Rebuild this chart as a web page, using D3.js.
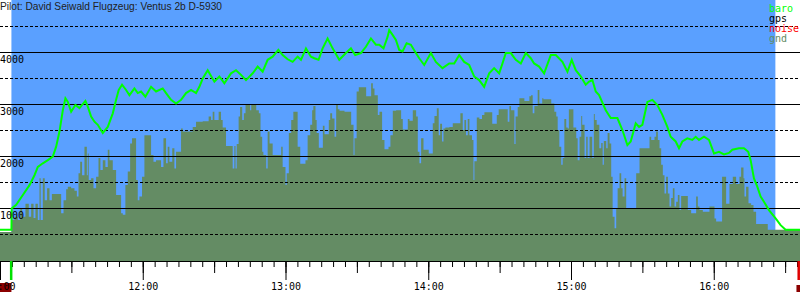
<!DOCTYPE html>
<html>
<head>
<meta charset="utf-8">
<script src="https://cdn.jsdelivr.net/npm/d3@7"></script>
<style>
  body { margin: 0; background: #fff; }
  svg { display: block; }
  .mono { font-family: "DejaVu Sans Mono", monospace; font-size: 10px; }
</style>
</head>
<body>
<svg id="chart" width="800" height="300"></svg>
<script>
const WIDTH = 800;
const HEIGHT = 300;
const AXIS_Y = 261;

// flight info
const title = "Pilot: David Seiwald Flugzeug: Ventus 2b D-5930";
const startTime = "11:00";
// minutes after 11:00
const takeoff = 4.8;
const landing = 325.9;
const logEnd = 335.6;

const yTicks = [1000, 2000, 3000, 4000];
const yHalfTicks = [500, 1500, 2500, 3500, 4500];
const legendNames = ["baro", "gps", "noise", "gnd"];
const legendColors = ["#00ff00", "#000000", "#ff0000", "#648c64"];

// baro altitude: [minutes after 11:00, metres]
const baro = [
  [-0.3,580],[4.8,580],[4.9,990],[6.8,1060],[9.6,1250],[12.4,1440],[14.5,1630],[15.9,1790],
  [18.0,1860],[20.1,1920],[22.2,1990],[23.6,2180],[25.0,2470],[26.4,2880],[27.5,3110],[28.5,3040],
  [29.9,2850],[31.7,2980],[33.4,2920],[35.9,3060],[36.9,2950],[38.3,2760],[39.7,2660],[41.1,2600],
  [43.2,2440],[45.3,2560],[47.4,2820],[48.8,3080],[49.9,3270],[51.3,3370],[53.0,3270],[54.4,3170],
  [56.5,3300],[57.9,3210],[59.3,3240],[61.1,3140],[63.5,3330],[65.6,3240],[68.4,3300],[69.8,3210],
  [71.9,3080],[74.0,3010],[76.1,3080],[78.2,3210],[80.3,3270],[82.4,3210],[83.8,3330],[85.2,3490],
  [87.3,3650],[90.1,3430],[92.2,3530],[94.3,3400],[97.1,3590],[99.2,3650],[101.3,3560],[103.4,3460],
  [106.2,3590],[108.3,3720],[110.4,3620],[112.5,3850],[114.6,3910],[117.0,4040],[118.8,3940],[120.9,3860],
  [123.0,3810],[125.1,3910],[126.5,3850],[128.6,4070],[130.7,3910],[132.1,3880],[133.9,3850],[135.6,4070],
  [137.7,4260],[139.8,4070],[142.6,3850],[145.4,3980],[147.5,4070],[149.3,3940],[151.7,3980],[153.8,4100],
  [155.9,4260],[158.0,4140],[159.4,4140],[161.2,4070],[162.9,4290],[163.6,4420],[165.0,4330],[166.4,4230],
  [167.8,4040],[169.2,4010],[170.9,4170],[172.7,4140],[174.8,3980],[176.2,3880],[178.3,3750],[181.1,3980],
  [183.2,3810],[186.0,3690],[188.8,3780],[190.9,3780],[193.0,3940],[195.1,3810],[197.2,3750],[199.3,3530],
  [201.4,3460],[203.5,3330],[205.6,3590],[207.7,3690],[209.8,3590],[211.2,3780],[212.6,3980],[214.7,3980],
  [216.8,3850],[218.9,3780],[221.0,3980],[223.1,3880],[224.5,3780],[226.6,3720],[228.7,3590],[231.5,3940],
  [233.6,3940],[236.4,3810],[238.5,3620],[240.3,3850],[242.0,3650],[244.1,3530],[246.2,3370],[247.6,3430],
  [249.0,3460],[250.4,3240],[251.8,3170],[254.6,2880],[256.7,2730],[259.5,2730],[261.6,2500],[263.7,2210],
  [265.1,2280],[267.2,2630],[268.6,2560],[270.0,2600],[272.1,3040],[274.2,3080],[276.3,2980],[278.4,2790],
  [280.5,2560],[281.9,2370],[284.0,2280],[285.4,2150],[286.8,2280],[288.9,2340],[291.0,2310],[292.4,2370],
  [293.8,2310],[295.9,2370],[298.0,2310],[300.1,2050],[302.2,2080],[304.3,2030],[306.4,2060],[307.8,2120],
  [310.6,2150],[312.7,2150],[314.5,2080],[315.5,1920],[316.9,1570],[318.3,1410],[319.7,1220],[321.1,1120],
  [323.2,960],[326.0,800],[328.1,670],[330.2,580],[336.3,580]
];

// ground elevation under the glider, stepwise: [minutes after 11:00, metres]
const gnd = [
  [-0.3,540],[4.8,770],[6.1,830],[7.5,770],[8.5,990],[9.3,830],[10.7,1080],[12.1,830],
  [13.1,1080],[14.1,810],[14.9,1080],[15.9,770],[16.6,1570],[17.1,770],[18.0,1570],[18.8,1150],
  [19.8,1380],[20.8,1150],[21.8,1270],[25.7,900],[26.7,1150],[27.8,1360],[28.5,1410],[29.9,1380],
  [31.3,1330],[32.3,1220],[33.0,1670],[33.7,1890],[34.5,1630],[35.5,2180],[36.5,1630],[36.9,2050],
  [37.3,1540],[38.3,1570],[39.3,1380],[40.4,1600],[41.4,1960],[42.2,1730],[43.2,1920],[44.3,1790],
  [45.3,2120],[46.0,1920],[47.4,1730],[48.8,1250],[50.9,900],[51.6,870],[52.7,1440],[53.7,1700],
  [54.7,2240],[55.5,2340],[57.2,1540],[57.9,1150],[58.6,1220],[59.7,1600],[60.7,2400],[63.5,2020],
  [64.5,1890],[65.6,1920],[67.7,1790],[68.7,2340],[69.8,1860],[70.5,2180],[71.2,1890],[72.4,2150],
  [73.3,1760],[74.0,2080],[76.1,2530],[76.8,2470],[81.0,2560],[82.4,2660],[85.2,2670],[87.7,2760],
  [88.7,2690],[89.4,2850],[90.1,2690],[91.9,2850],[92.9,2690],[93.6,2550],[95.0,2190],[97.8,1760],
  [98.5,2190],[99.0,1760],[99.5,2230],[100.3,2760],[100.9,2940],[101.8,2690],[102.5,2820],[103.2,2980],
  [105.1,2880],[105.6,2980],[107.7,2880],[108.8,2820],[109.5,2370],[110.2,2080],[110.7,2020],[111.9,1760],
  [112.5,2470],[113.3,2240],[114.6,2020],[118.2,2180],[118.8,1790],[120.0,1440],[120.5,1670],[121.4,2440],
  [122.4,2690],[123.3,2850],[125.1,2180],[126.2,1850],[128.4,1920],[129.3,2400],[130.4,2600],[131.2,2880],
  [131.7,2960],[132.6,2690],[133.1,2440],[134.0,2160],[135.7,2580],[136.4,2420],[138.2,2690],[138.8,2820],
  [139.6,2720],[140.6,2370],[141.3,2980],[142.0,2900],[142.7,2870],[144.8,2850],[147.6,2600],[148.6,2020],
  [149.0,2340],[149.9,3240],[150.8,3320],[153.9,3150],[156.0,3400],[156.7,3300],[157.4,3170],[158.8,2790],
  [159.5,2850],[160.6,2310],[161.6,2130],[163.3,2180],[164.1,2400],[165.1,2870],[166.5,2880],[168.6,2710],
  [169.3,2510],[171.4,2710],[172.1,2680],[173.5,2880],[174.9,2760],[175.6,2080],[176.3,1860],[177.0,2340],
  [178.0,2120],[180.2,2050],[181.9,2630],[182.6,2770],[183.6,2920],[184.4,2400],[185.0,2620],[185.8,2280],
  [186.4,2530],[187.2,2550],[188.9,2560],[190.3,2630],[193.5,2820],[194.5,2500],[195.2,2690],[195.9,2400],
  [196.6,2710],[197.3,2400],[198.4,2310],[199.0,1540],[199.4,1900],[200.4,2740],[201.5,2710],[202.6,2790],
  [203.6,2840],[206.9,2620],[208.8,2790],[209.6,2900],[213.4,2660],[214.1,2960],[214.8,2880],[216.2,2230],
  [216.7,2760],[217.6,2940],[218.3,3110],[220.4,3060],[222.5,3150],[223.2,3170],[223.9,2820],[224.6,2960],
  [226.0,3270],[226.7,3010],[227.9,3110],[228.4,3090],[231.7,3010],[233.0,2850],[233.8,2760],[234.4,2500],
  [235.1,2180],[235.9,1830],[236.5,1960],[237.2,2710],[238.0,2550],[238.6,2530],[239.1,2900],[241.0,2550],
  [242.2,2340],[242.8,1920],[243.6,2370],[244.3,2770],[244.7,2600],[245.7,1960],[246.4,2370],[247.0,1960],
  [247.8,2370],[248.9,1960],[249.6,2810],[250.0,2690],[250.8,2600],[251.9,2150],[252.7,2250],[253.3,1830],
  [253.8,2290],[254.8,2150],[255.4,2440],[256.2,2240],[256.9,1600],[257.5,830],[258.3,610],[259.0,990],
  [259.6,1380],[260.4,1670],[261.1,1380],[261.7,1220],[262.5,1570],[263.2,990],[267.4,1670],[268.8,2150],
  [273.0,2370],[273.7,2310],[275.1,2370],[275.8,2470],[276.5,2310],[277.2,2150],[277.9,1830],[278.6,1630],
  [279.3,1280],[280.0,1600],[280.7,1280],[281.4,1030],[282.1,1190],[282.8,1380],[283.5,1030],[284.2,1120],
  [284.9,1250],[285.6,960],[286.3,1230],[289.1,960],[290.5,900],[292.6,1220],[293.3,1030],[294.0,960],
  [295.4,930],[298.2,1030],[300.3,800],[301.0,740],[303.5,1600],[305.2,1080],[306.6,1460],[308.0,1600],
  [309.4,1460],[310.8,1600],[311.5,1780],[312.5,1570],[312.9,1220],[313.6,1410],[314.6,1090],[315.7,1060],
  [316.7,930],[317.8,690],[322.7,580],[336.3,580]
];

const baseTime = d3.timeParse("%H:%M")(startTime);
const toDate = m => d3.timeSecond.offset(baseTime, Math.round(m * 60));

const svg = d3.select("#chart");

// 800 px cover 336.25 minutes
const xScale = d3.scaleTime()
  .domain([baseTime, toDate(336.25)])
  .range([0, WIDTH]);
const yScale = d3.scaleLinear()
  .domain([0, 5000])
  .range([260, 0]);

// white page, blue while flying
svg.append("rect")
  .attr("width", WIDTH).attr("height", HEIGHT).attr("fill", "#fff");
svg.append("rect")
  .attr("x", xScale(toDate(takeoff)))
  .attr("y", 0)
  .attr("width", xScale(toDate(landing)) - xScale(toDate(takeoff)))
  .attr("height", yScale(0))
  .attr("fill", "#5aa0ff");

// ground
const gndArea = d3.area()
  .curve(d3.curveStepAfter)
  .x(d => xScale(toDate(d[0])))
  .y0(AXIS_Y)
  .y1(d => yScale(d[1]));
svg.append("path")
  .datum(gnd)
  .attr("d", gndArea)
  .attr("fill", "#648c64");

// grid
svg.append("g").selectAll("line")
  .data(yTicks)
  .join("line")
  .attr("x1", 0).attr("x2", WIDTH)
  .attr("y1", d => Math.round(yScale(d)) + 0.5)
  .attr("y2", d => Math.round(yScale(d)) + 0.5)
  .attr("stroke", "#000");
svg.append("g").selectAll("line")
  .data(yHalfTicks)
  .join("line")
  .attr("x1", 0).attr("x2", WIDTH)
  .attr("y1", d => Math.round(yScale(d)) + 0.5)
  .attr("y2", d => Math.round(yScale(d)) + 0.5)
  .attr("stroke", "#000")
  .attr("stroke-dasharray", "3,2");

// baro
const baroLine = d3.line()
  .x(d => xScale(toDate(d[0])))
  .y(d => yScale(d[1]));
svg.append("path")
  .datum(baro)
  .attr("d", baroLine)
  .attr("fill", "none")
  .attr("stroke", "#00ff00")
  .attr("stroke-width", 2);

// altitude labels
svg.append("g").selectAll("text")
  .data(yTicks)
  .join("text")
  .attr("class", "mono")
  .attr("x", 0)
  .attr("y", d => yScale(d) + 11)
  .attr("fill", "#000")
  .text(d => d);

// bottom time axis: 5 min, 30 min, hours
const minorAxis = d3.axisBottom(xScale)
  .ticks(d3.timeMinute.every(5))
  .tickSize(6).tickSizeOuter(0)
  .tickFormat("");
const halfAxis = d3.axisBottom(xScale)
  .ticks(d3.timeMinute.every(30))
  .tickSize(12).tickSizeOuter(0)
  .tickFormat("");
const hourAxis = d3.axisBottom(xScale)
  .ticks(d3.timeHour.every(1))
  .tickSize(19).tickSizeOuter(0).tickPadding(3)
  .tickFormat(d3.timeFormat("%H:%M"));

// start / end markers
svg.append("rect")
  .attr("x", 0).attr("y", 283)
  .attr("width", xScale(toDate(takeoff)))
  .attr("height", 9)
  .attr("fill", "#8b0000");
svg.append("rect")
  .attr("x", xScale(toDate(logEnd)) - 2).attr("y", 285)
  .attr("width", 4).attr("height", 7)
  .attr("fill", "#8b0000");

const axisG = svg.append("g").attr("transform", `translate(0,${AXIS_Y})`).attr("color", "#000");
axisG.append("g").call(minorAxis);
axisG.append("g").call(halfAxis).select(".domain").remove();
axisG.append("g").call(hourAxis).call(g => g.select(".domain").remove())
  .selectAll("text")
  .attr("font-family", "DejaVu Sans Mono, monospace")
  .attr("font-size", 10)
  .attr("fill", "#000");

svg.append("rect")
  .attr("x", xScale(toDate(takeoff)) - 1.5).attr("y", AXIS_Y)
  .attr("width", 2.5).attr("height", 19)
  .attr("fill", "#00e000");
svg.append("rect")
  .attr("x", xScale(toDate(logEnd)) - 1).attr("y", AXIS_Y)
  .attr("width", 2.5).attr("height", 19)
  .attr("fill", "#e00000");

// title
svg.append("text")
  .attr("x", 0).attr("y", 9.5)
  .attr("font-family", "Liberation Sans, Arial, sans-serif")
  .attr("font-size", 10.2)
  .attr("fill", "#222")
  .text(title);

// legend
svg.append("g").selectAll("text")
  .data(legendNames)
  .join("text")
  .attr("class", "mono")
  .attr("x", 769)
  .attr("y", (d, i) => 11.5 + i * 10)
  .attr("fill", (d, i) => legendColors[i])
  .text(d => d);
</script>
</body>
</html>
